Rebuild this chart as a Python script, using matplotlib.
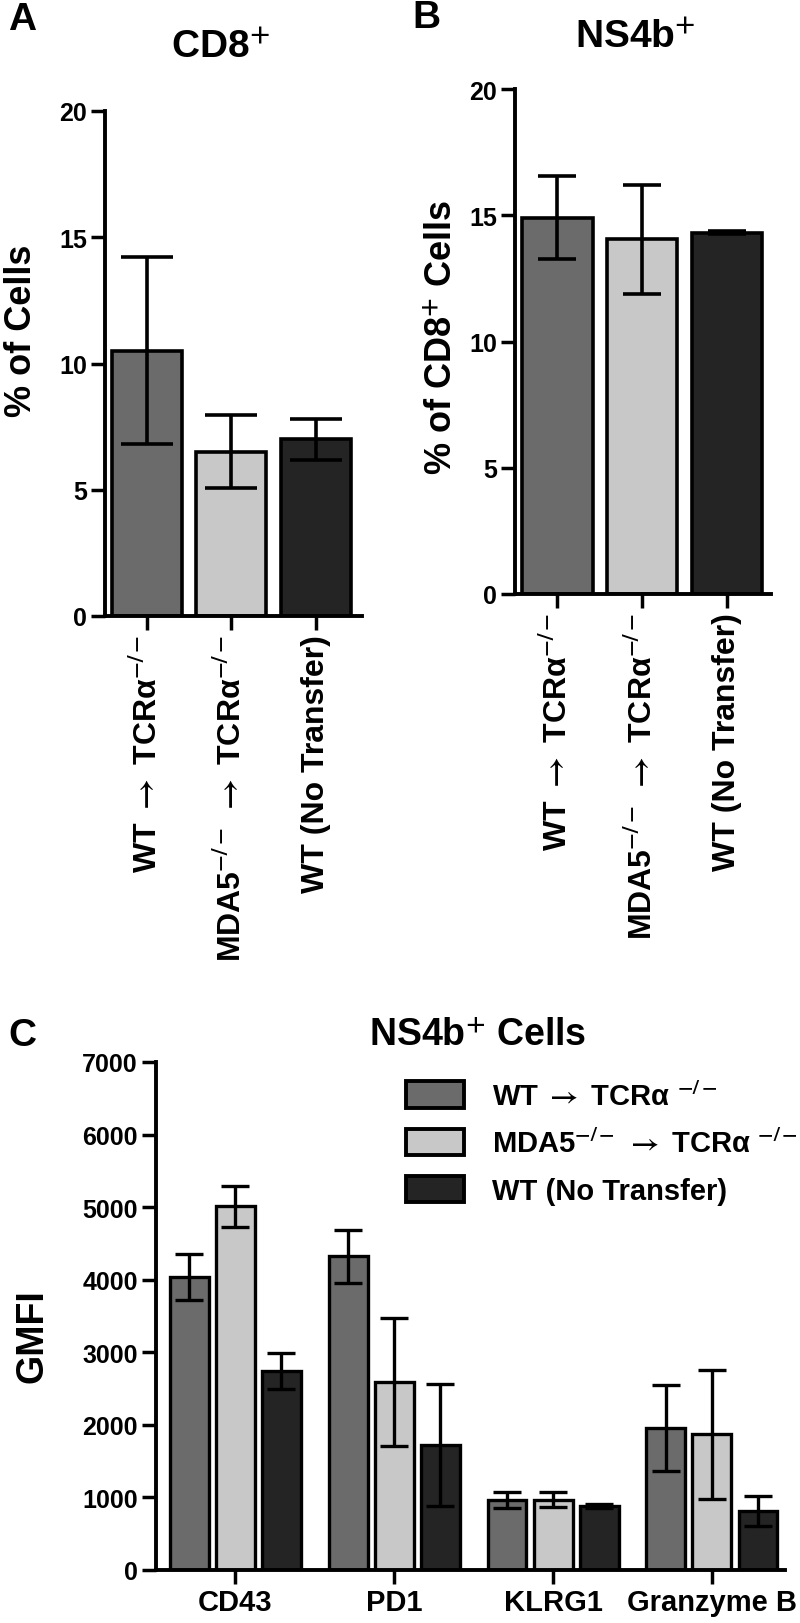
import numpy as np
import matplotlib.pyplot as plt

# 数据
groups = ['WT $\\rightarrow$ TCRα$^{-/-}$',
          'MDA5$^{-/-}$ $\\rightarrow$ TCRα$^{-/-}$',
          'WT (No Transfer)']
legend_labels = ['WT $\\rightarrow$ TCRα $^{-/-}$',
                 'MDA5$^{-/-}$ $\\rightarrow$ TCRα $^{-/-}$',
                 'WT (No Transfer)']
bar_colors = ['#6b6b6b', '#c8c8c8', '#242424']

cd8_mean = [10.5, 6.5, 7.0]
cd8_sd = [3.7, 1.45, 0.82]

ns4b_mean = [14.9, 14.05, 14.3]
ns4b_sd = [1.65, 2.15, 0.06]

markers = ['CD43', 'PD1', 'KLRG1', 'Granzyme B']
gmfi_wt = [4040, 4320, 970, 1960]
gmfi_wt_sd = [317, 360, 110, 590]
gmfi_mda5 = [5010, 2590, 970, 1870]
gmfi_mda5_sd = [285, 880, 100, 885]
gmfi_nt = [2740, 1720, 880, 810]
gmfi_nt_sd = [245, 840, 30, 205]

W, H = 800, 1624
plt.rcParams['font.family'] = ['Liberation Sans', 'DejaVu Sans']
plt.rcParams['font.weight'] = 'bold'
plt.rcParams['axes.labelweight'] = 'bold'
plt.rcParams['mathtext.fontset'] = 'stixsans'
plt.rcParams['mathtext.default'] = 'bf'


#像素坐标转成figure坐标
def box(l, t, r, b):
    return [l / W, 1 - b / H, (r - l) / W, (b - t) / H]


def style_axis(ax, ticklen=10):
    for s in ['top', 'right']:
        ax.spines[s].set_visible(False)
    for s in ['left', 'bottom']:
        ax.spines[s].set_linewidth(2.8)
    ax.tick_params(width=2.5, length=ticklen, direction='out', pad=3)


fig = plt.figure(figsize=(W / 100, H / 100), dpi=100)

#A: CD8+
axA = fig.add_axes(box(105, 112, 362, 617))
x = np.arange(3)
axA.bar(x, cd8_mean, width=0.83, color=bar_colors, edgecolor='black', linewidth=2.6, zorder=2)
axA.errorbar(x, cd8_mean, yerr=cd8_sd, fmt='none', ecolor='black', elinewidth=2.6,
             capsize=19, capthick=2.6, zorder=3)
axA.set_xlim(-0.5, 2.55)
axA.set_ylim(0, 20)
axA.set_yticks([0, 5, 10, 15, 20])
axA.set_xticks(x)
axA.set_xticklabels(groups, rotation=90, ha='center', va='top', fontsize=23)
axA.tick_params(axis='y', labelsize=18)
style_axis(axA)

#B: NS4b+
axB = fig.add_axes(box(515, 90, 771, 595))
axB.bar(x, ns4b_mean, width=0.83, color=bar_colors, edgecolor='black', linewidth=2.6, zorder=2)
axB.errorbar(x, ns4b_mean, yerr=ns4b_sd, fmt='none', ecolor='black', elinewidth=2.6,
             capsize=14, capthick=2.6, zorder=3)
axB.set_xlim(-0.5, 2.52)
axB.set_ylim(0, 20)
axB.set_yticks([0, 5, 10, 15, 20])
axB.set_xticks(x)
axB.set_xticklabels(groups, rotation=90, ha='center', va='top', fontsize=23)
axB.tick_params(axis='y', labelsize=18)
style_axis(axB)

#C: GMFI
axC = fig.add_axes(box(156, 1063, 785, 1571))
xc = np.arange(len(markers))
off = 0.29
series = [(gmfi_wt, gmfi_wt_sd), (gmfi_mda5, gmfi_mda5_sd), (gmfi_nt, gmfi_nt_sd)]
for i, (m, sd) in enumerate(series):
    pos = xc + (i - 1) * off
    axC.bar(pos, m, width=0.245, color=bar_colors[i], edgecolor='black', linewidth=2.4,
            zorder=2, label=legend_labels[i])
    axC.errorbar(pos, m, yerr=sd, fmt='none', ecolor='black', elinewidth=2.4,
                 capsize=10, capthick=2.4, zorder=3)
axC.set_xlim(-0.5, 3.46)
axC.set_ylim(0, 7000)
axC.set_yticks(np.arange(0, 7001, 1000))
axC.set_xticks(xc)
axC.set_xticklabels(markers, fontsize=21)
axC.tick_params(axis='y', labelsize=18)
style_axis(axC)
leg = axC.legend(loc='upper left', bbox_to_anchor=(0.397, 0.962), frameon=False,
                 borderaxespad=0, borderpad=0,
                 handlelength=2.0, handleheight=1.0, labelspacing=0.62, handletextpad=0.95,
                 prop={'weight': 'bold', 'size': 21})
for p in leg.get_patches():
    p.set_linewidth(2.8)

#y轴标签
fig.text(22 / W, 1 - 331 / H, '% of Cells', fontsize=26, rotation=90, ha='center', va='center')
fig.text(443 / W, 1 - 337 / H, '% of CD8$^{+}$ Cells', fontsize=26, rotation=90,
         ha='center', va='center')
fig.text(32 / W, 1 - 1336 / H, 'GMFI', fontsize=27, rotation=90, ha='center', va='center')

#标题和字母
fig.text(220 / W, 1 - 48 / H, 'CD8$^{+}$', fontsize=28, ha='center', va='center')
fig.text(635 / W, 1 - 38 / H, 'NS4b$^{+}$', fontsize=28, ha='center', va='center')
fig.text(478 / W, 1 - 1036 / H, 'NS4b$^{+}$ Cells', fontsize=27, ha='center', va='center')
fig.text(8 / W, 1 - 20 / H, 'A', fontsize=28, ha='left', va='center')
fig.text(412 / W, 1 - 18 / H, 'B', fontsize=28, ha='left', va='center')
fig.text(8 / W, 1 - 1036 / H, 'C', fontsize=28, ha='left', va='center')

fig.savefig('out.png', dpi=100)
